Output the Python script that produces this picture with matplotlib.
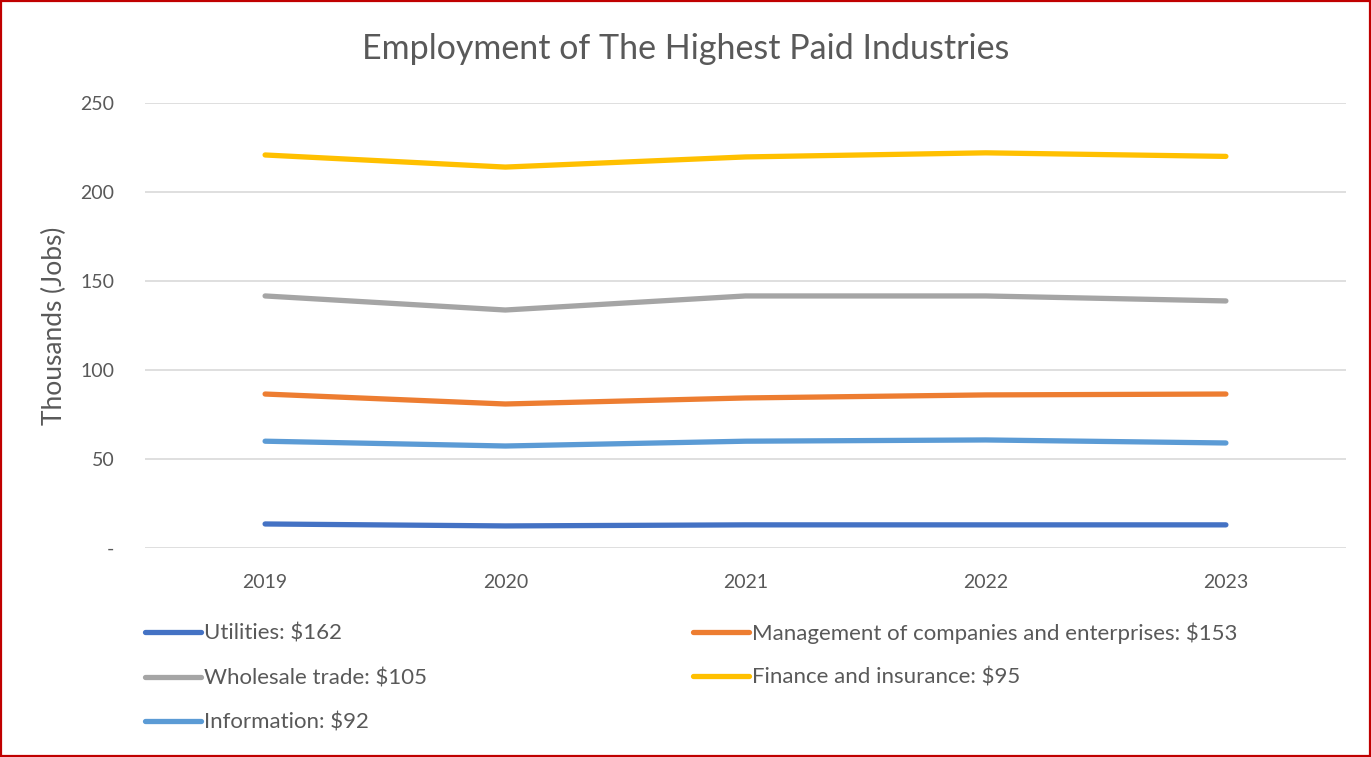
import matplotlib.pyplot as plt
from matplotlib.patches import Rectangle

# Données
annees = ["2019", "2020", "2021", "2022", "2023"]
utilities = [13.5, 12.4, 13.0, 13.0, 13.0]
management = [86.5, 80.9, 84.3, 86.0, 86.5]
wholesale = [141.6, 133.7, 141.6, 141.6, 138.8]
finance = [220.8, 214.0, 219.7, 222.0, 220.0]
information = [60.0, 57.3, 60.0, 60.7, 59.0]
y_ticks = [0, 50, 100, 150, 200, 250]
y_tick_labels = ["-", "50", "100", "150", "200", "250"]

plt.rcParams['font.family'] = ['Lato', 'DejaVu Sans']
texte = '#595959'

fig = plt.figure(figsize=(13.71, 7.57), dpi=100)
ax = fig.add_axes([145 / 1371, 1 - 548 / 757, 1201 / 1371, 445 / 757])

x = range(len(annees))
series = [
    ("Utilities: $162", utilities, '#4472C4'),
    ("Management of companies and enterprises: $153", management, '#ED7D31'),
    ("Wholesale trade: $105", wholesale, '#A5A5A5'),
    ("Finance and insurance: $95", finance, '#FFC000'),
    ("Information: $92", information, '#5B9BD5'),
]
lignes = {}
for nom, vals, couleur in series:
    lignes[nom], = ax.plot(x, vals, color=couleur, lw=3.8,
                           solid_capstyle='round', solid_joinstyle='round')

ax.set_xlim(-0.5, 4.5)
ax.set_ylim(0, 250)
ax.set_xticks(list(x))
ax.set_xticklabels(annees)
ax.set_yticks(y_ticks)
ax.set_yticklabels(y_tick_labels)
ax.grid(axis='y', color='#D9D9D9', lw=1.2)
ax.set_axisbelow(True)
for s in ax.spines.values():
    s.set_visible(False)
ax.tick_params(length=0, labelsize=14, colors=texte, pad=22)
ax.tick_params(axis='x', pad=19)
ax.set_ylabel("Thousands (Jobs)", fontsize=19, color=texte, labelpad=10)

fig.text(0.5, 1 - 49 / 757, "Employment of The Highest Paid Industries",
         ha='center', va='center', fontsize=24.5, color=texte)

# Légende en deux colonnes
noms = [s[0] for s in series]
col1 = [noms[0], noms[2], noms[4]]
col2 = [noms[1], noms[3]]
for cols, x0, y0 in [(col1, 145, 624), (col2, 693, 622)]:
    fig.legend([lignes[n] for n in cols], cols, loc='upper left',
               bbox_to_anchor=(x0 / 1371, 1 - y0 / 757), frameon=False,
               fontsize=16, labelcolor=texte, handlelength=2.5,
               handletextpad=0.15, labelspacing=1.1, borderpad=0, borderaxespad=0)

# Cadre rouge
fig.patches.append(Rectangle((0.001, 0.001), 0.998, 0.998, transform=fig.transFigure,
                             fill=False, edgecolor='#C00000', lw=1.6))

plt.savefig('out.png', dpi=100)
plt.close()
